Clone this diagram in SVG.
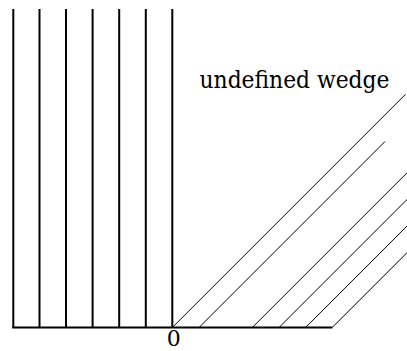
<svg xmlns="http://www.w3.org/2000/svg" width="407" height="351" viewBox="0 0 407 351">
<style>
.thick{stroke:#000;stroke-width:2;fill:none}
.thin{stroke:#000;stroke-width:1;fill:none}
.lbl{font-family:'DejaVu Serif','Liberation Serif',serif;fill:#000}
</style>
<rect width="407" height="351" fill="#fff"/>
<g id="connectors">
<g id="verticals" class="thick">
<line x1="13.3" y1="9" x2="13.3" y2="328"/>
<line x1="39.5" y1="9" x2="39.5" y2="328"/>
<line x1="66" y1="9" x2="66" y2="328"/>
<line x1="92.6" y1="9" x2="92.6" y2="328"/>
<line x1="119.2" y1="9" x2="119.2" y2="328"/>
<line x1="145.8" y1="9" x2="145.8" y2="328"/>
<line x1="172.3" y1="9" x2="172.3" y2="328"/>
</g>
<line id="baseline" class="thick" x1="12.3" y1="327.5" x2="332.5" y2="327.5"/>
<g id="diagonals" class="thin">
<line x1="172.3" y1="327.5" x2="405.5" y2="94.3"/>
<line x1="199" y1="327.5" x2="385" y2="141.5"/>
<line x1="252.3" y1="327.5" x2="408" y2="171.8"/>
<line x1="279" y1="327.5" x2="408" y2="198.5"/>
<line x1="305.6" y1="327.5" x2="408" y2="225.1"/>
<line x1="332.2" y1="327.5" x2="408" y2="251.7"/>
</g>
</g>
<g id="label-wedge"><text class="lbl" font-size="24" x="199.5" y="88.3" textLength="190" lengthAdjust="spacingAndGlyphs">undefined wedge</text></g>
<g id="label-zero"><text class="lbl" font-size="22" x="173.7" y="345.5" text-anchor="middle">0</text></g>
</svg>
